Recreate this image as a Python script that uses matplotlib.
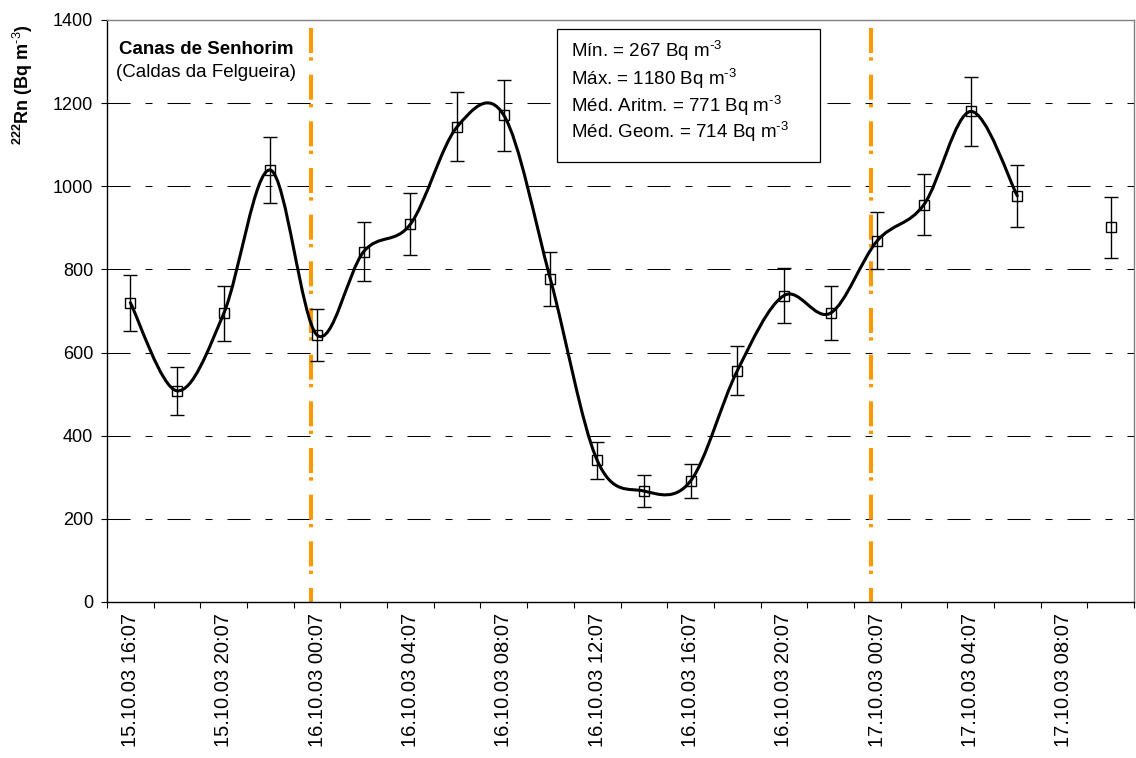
import numpy as np
import matplotlib
matplotlib.use("Agg")
import matplotlib.pyplot as plt
from matplotlib.path import Path
from matplotlib.patches import PathPatch, Rectangle

# --- data -------------------------------------------------------------
times = [
    "15.10.03 16:07", "15.10.03 18:07", "15.10.03 20:07", "15.10.03 22:07",
    "16.10.03 00:07", "16.10.03 02:07", "16.10.03 04:07", "16.10.03 06:07",
    "16.10.03 08:07", "16.10.03 10:07", "16.10.03 12:07", "16.10.03 14:07",
    "16.10.03 16:07", "16.10.03 18:07", "16.10.03 20:07", "16.10.03 22:07",
    "17.10.03 00:07", "17.10.03 02:07", "17.10.03 04:07", "17.10.03 06:07",
    "17.10.03 08:07", "17.10.03 10:07",
]
radon = [720, 508, 694, 1039, 642, 843, 909, 1143, 1171, 776, 341, 267,
         291, 556, 737, 695, 869, 956, 1180, 977, np.nan, 901]
radon_err = [67, 57, 66, 80, 63, 72, 75, 83, 85, 65, 45, 39,
             41, 59, 67, 64, 69, 73, 83, 75, np.nan, 73]
midnights = ["16.10.03 00:07", "17.10.03 00:07"]
y_ticks = [0, 200, 400, 600, 800, 1000, 1200, 1400]
stats_lines = [
    r"Mín. = 267 Bq m$^{\text{-3}}$",
    r"Máx. = 1180 Bq m$^{\text{-3}}$",
    r"Méd. Aritm. = 771 Bq m$^{\text{-3}}$",
    r"Méd. Geom. = 714 Bq m$^{\text{-3}}$",
]

# --- style ------------------------------------------------------------
plt.rcParams["font.family"] = ["Liberation Sans", "DejaVu Sans"]
plt.rcParams["mathtext.fontset"] = "custom"
plt.rcParams["mathtext.rm"] = "Liberation Sans"
plt.rcParams["mathtext.it"] = "Liberation Sans:italic"
plt.rcParams["mathtext.bf"] = "Liberation Sans:bold"
plt.rcParams["lines.scale_dashes"] = False

fig = plt.figure(figsize=(11.36, 7.58), dpi=100)
W, H = 1136, 758
ax = fig.add_axes([107 / W, 1 - 602 / H, 1027 / W, 582 / H])

x = np.arange(len(times), dtype=float)
y = np.array(radon, dtype=float)
e = np.array(radon_err, dtype=float)

ax.set_xlim(-0.5, len(times) - 0.5)
ax.set_ylim(y_ticks[0], y_ticks[-1])

# horizontal dashed grid (long dash / short dash)
for yv in y_ticks[1:-1]:
    ax.plot([-0.5, len(times) - 0.5], [yv, yv], color="black", lw=0.75,
            dashes=(16.6, 10.8, 5.0, 10.8), solid_capstyle="butt",
            dash_capstyle="butt", zorder=1)

# day separators
for m in midnights:
    xm = times.index(m) - 0.13
    ax.plot([xm, xm], [1380, 0], color="#FF9900", lw=2.9,
            dashes=(18, 3.1, 2.4, 10.1), dash_capstyle="butt", zorder=2)


# smoothed curve through consecutive points (Catmull-Rom as cubic Bezier)
def smooth_path(xs, ys):
    n = len(xs)
    verts = [(xs[0], ys[0])]
    codes = [Path.MOVETO]
    for i in range(n - 1):
        a = i - 1 if i > 0 else i
        d = i + 2 if i + 2 < n else i + 1
        c1 = (xs[i] + (xs[i + 1] - xs[a]) / 6.0, ys[i] + (ys[i + 1] - ys[a]) / 6.0)
        c2 = (xs[i + 1] - (xs[d] - xs[i]) / 6.0, ys[i + 1] - (ys[d] - ys[i]) / 6.0)
        verts += [c1, c2, (xs[i + 1], ys[i + 1])]
        codes += [Path.CURVE4] * 3
    return Path(verts, codes)


valid = ~np.isnan(y)
start = None
for i in range(len(y) + 1):
    ok = i < len(y) and valid[i]
    if ok and start is None:
        start = i
    elif not ok and start is not None:
        if i - start >= 2:
            p = smooth_path(x[start:i], y[start:i])
            ax.add_patch(PathPatch(p, facecolor="none", edgecolor="black",
                                   lw=2.2, zorder=3, capstyle="round"))
        start = None

ax.errorbar(x, y, yerr=e, fmt="none", ecolor="black", elinewidth=1.0,
            capsize=5, capthick=1.0, zorder=4)
ax.plot(x, y, linestyle="none", marker="s", markersize=7.4,
        markerfacecolor="none", markeredgecolor="black", markeredgewidth=1.0,
        zorder=5)

# axes
ax.spines["top"].set_color("#808080")
ax.spines["right"].set_color("#808080")
for s in ("top", "right"):
    ax.spines[s].set_linewidth(1.0)
for s in ("left", "bottom"):
    ax.spines[s].set_color("black")
    ax.spines[s].set_linewidth(1.0)

ax.set_yticks(y_ticks)
ax.tick_params(axis="y", direction="out", length=4, width=0.8,
               labelsize=13, pad=6, colors="black")

ax.set_xticks(np.arange(-0.5, len(times)), labels=[])
ax.tick_params(axis="x", which="major", direction="out", length=4, width=0.8)
ax.set_xticks(x[::2], labels=times[::2], minor=True)
ax.tick_params(axis="x", which="minor", length=0, pad=8, labelsize=14.5,
               labelrotation=90)

# y label
fig.text(23 / W, 1 - 85 / H, r"$^{\mathbf{222}}$Rn (Bq m$^{\mathbf{\text{-3}}}$)",
         rotation=90, ha="center", va="center", fontsize=13,
         fontweight="bold")

# site annotation
ax.text(0.0964, 0.950, "Canas de Senhorim", transform=ax.transAxes,
        ha="center", va="center", fontsize=13.5, fontweight="bold")
ax.text(0.0964, 0.909, "(Caldas da Felgueira)", transform=ax.transAxes,
        ha="center", va="center", fontsize=13.5)

# statistics box
ax.add_patch(Rectangle((0.438, 0.756), 0.694 - 0.438, 0.9845 - 0.756,
                       transform=ax.transAxes, facecolor="white",
                       edgecolor="black", lw=0.9, zorder=6))
for yy, line in zip([0.9359, 0.8883, 0.8424, 0.7978], stats_lines):
    ax.text(0.4518, yy, line, transform=ax.transAxes, ha="left",
            va="baseline", fontsize=13.5, zorder=7)

fig.savefig("out.png", dpi=100)
